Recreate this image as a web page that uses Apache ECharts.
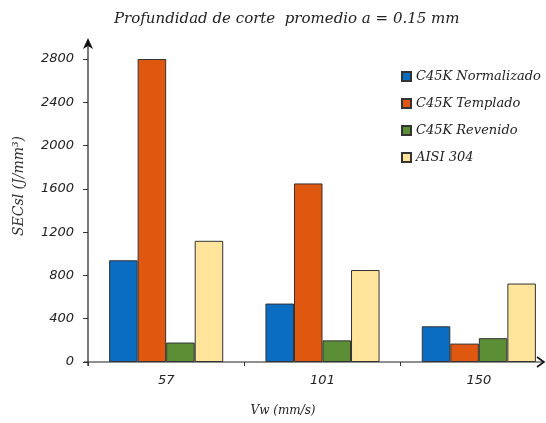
<!DOCTYPE html>
<html>
<head>
<meta charset="utf-8">
<script src="https://cdn.jsdelivr.net/npm/echarts@6/dist/echarts.min.js"></script>
<style>
  html, body { margin: 0; padding: 0; background: #fff; }
  #chart { width: 546px; height: 423px; }
</style>
</head>
<body>
<div id="chart"></div>
<script>
// Cutting speed categories (mm/s)
const speeds = ['57', '101', '150'];

// Specific energy SECsl (J/mm³) per material
const normalizado = [940, 540, 330];
const templado = [2800, 1650, 170];
const revenido = [180, 200, 220];
const aisi304 = [1120, 850, 725];

const seriesNames = ['C45K Normalizado', 'C45K Templado', 'C45K Revenido', 'AISI 304'];
const seriesColors = ['#0A6DC2', '#E0580F', '#5C8E36', '#FFE49C'];

const serifItalic = { fontFamily: 'DejaVu Serif', fontStyle: 'italic', color: '#222' };
const sansItalic = { fontFamily: 'DejaVu Sans', fontStyle: 'italic', color: '#222' };

const GRID_LEFT = 88;
const chart = echarts.init(document.getElementById('chart'));

const values = [normalizado, templado, revenido, aisi304];

chart.setOption({
  animation: false,
  backgroundColor: '#fff',
  title: {
    text: 'Profundidad de corte  promedio a = 0.15 mm',
    left: 109,
    top: 7,
    textStyle: Object.assign({}, serifItalic, { fontSize: 15, fontWeight: 'normal' })
  },
  legend: {
    orient: 'vertical',
    left: 396,
    top: 65,
    itemWidth: 9,
    itemHeight: 9,
    itemGap: 14,
    icon: 'rect',
    data: seriesNames,
    textStyle: Object.assign({}, serifItalic, { fontSize: 13 })
  },
  grid: { left: GRID_LEFT, top: 59, width: 469, bottom: 61, containLabel: false, outerBoundsMode: 'none' },
  xAxis: {
    type: 'category',
    data: speeds,
    axisLine: { show: false },
    axisTick: { show: true, length: 4, lineStyle: { color: '#333' } },
    axisLabel: Object.assign({}, sansItalic, { fontSize: 13, margin: 12 })
  },
  yAxis: {
    type: 'value',
    min: 0,
    max: 2800,
    interval: 400,
    axisLine: { show: false },
    axisTick: { show: true, length: 5, lineStyle: { color: '#333' } },
    splitLine: { show: false },
    axisLabel: Object.assign({}, sansItalic, { fontSize: 13, margin: 14, formatter: v => String(v) })
  },
  series: seriesNames.map((name, i) => ({
    name: name,
    type: 'bar',
    data: values[i],
    barGap: '0%',
    barCategoryGap: '27%',
    itemStyle: { color: seriesColors[i], borderColor: '#333', borderWidth: 1 }
  }))
});

// Axis lines with arrowheads, anchored to the chart's own value scale
const ox = GRID_LEFT;
const oy = chart.convertToPixel({ yAxisIndex: 0 }, 0);
const topY = chart.convertToPixel({ yAxisIndex: 0 }, 2800) - 20;

chart.setOption({
  graphic: [
    { type: 'line', shape: { x1: ox, y1: oy + 4, x2: ox, y2: topY + 4 }, style: { stroke: '#222', lineWidth: 1.2 } },
    { type: 'polygon', shape: { points: [[ox, topY - 1], [ox - 5, topY + 10], [ox, topY + 7], [ox + 5, topY + 10]] }, style: { fill: '#111' } },
    { type: 'line', shape: { x1: ox - 4, y1: oy, x2: 543, y2: oy }, style: { stroke: '#222', lineWidth: 1.2 } },
    { type: 'polyline', shape: { points: [[537, oy - 5], [544, oy], [537, oy + 5]] }, style: { stroke: '#111', lineWidth: 1.6, fill: null } },
    {
      type: 'text', x: 19, y: 186, rotation: Math.PI / 2,
      style: Object.assign({ text: 'SECsl (J/mm³)', fontSize: 14, align: 'center', verticalAlign: 'middle' }, serifItalic, { fill: '#333' })
    },
    {
      type: 'text', x: 283, y: 411,
      style: Object.assign({ text: 'Vw (mm/s)', fontSize: 12, align: 'center', verticalAlign: 'middle' }, serifItalic, { fill: '#222' })
    }
  ]
});
</script>
</body>
</html>
